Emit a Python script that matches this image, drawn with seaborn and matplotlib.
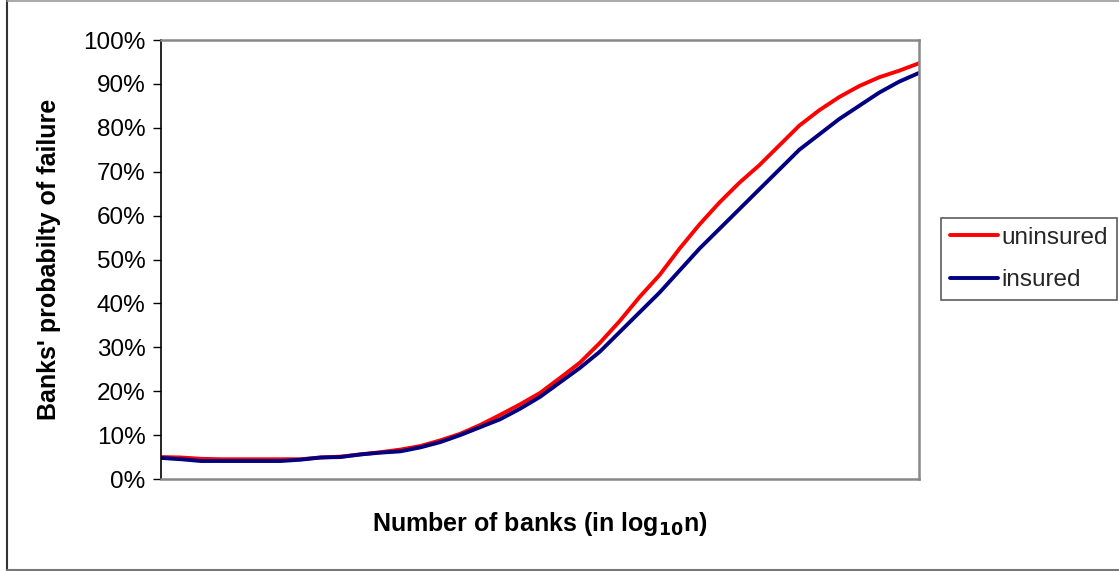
import numpy as np
import pandas as pd
import matplotlib
matplotlib.use("Agg")
import matplotlib.pyplot as plt
import seaborn as sns
from matplotlib.lines import Line2D

# Data (x = position along log10 n axis, no tick labels)
x_index = list(range(39))
uninsured = [5.0, 4.9, 4.6, 4.5, 4.5, 4.5, 4.5, 4.5, 4.9, 5.1, 5.6, 6.1, 6.7, 7.5, 8.8,
             10.3, 12.3, 14.6, 17.0, 19.6, 23.0, 26.5, 31.0, 36.0, 41.5, 46.5, 52.5,
             58.0, 63.0, 67.5, 71.5, 76.0, 80.5, 84.0, 87.0, 89.5, 91.5, 93.0, 94.7]
insured = [4.8, 4.5, 4.1, 4.1, 4.1, 4.1, 4.1, 4.4, 4.9, 5.0, 5.6, 6.0, 6.3, 7.2, 8.4,
           10.0, 11.8, 13.6, 16.0, 18.7, 22.0, 25.3, 29.0, 33.5, 38.0, 42.5, 47.5,
           52.5, 57.0, 61.5, 66.0, 70.5, 75.0, 78.5, 82.0, 85.0, 88.0, 90.5, 92.5]
series_names = ["uninsured", "insured"]
series_colors = ["#FF0000", "#000080"]
y_ticks = list(range(0, 101, 10))

df = pd.DataFrame({
    "x": x_index * 2,
    "value": uninsured + insured,
    "series": [series_names[0]] * len(x_index) + [series_names[1]] * len(x_index),
})

sns.set_style("white")
plt.rcParams["font.family"] = ["Liberation Sans", "DejaVu Sans"]

W, H = 1119, 571
fig = plt.figure(figsize=(W / 100, H / 100), dpi=100)
ax = fig.add_axes([161 / W, 1 - 479 / H, (919 - 161) / W, (479 - 40) / H])

sns.lineplot(data=df, x="x", y="value", hue="series", hue_order=series_names,
             palette=series_colors, linewidth=2.8, ax=ax, legend=False)

ax.set_xlim(0, len(x_index) - 1)
ax.set_ylim(0, 100)
ax.set_yticks(y_ticks)
ax.set_yticklabels([f"{t}%" for t in y_ticks], fontsize=17.5, color="black")
ax.set_xticks([])
ax.tick_params(axis="y", direction="out", length=6, width=1, color="black", pad=5, left=True)

for side in ["top", "right", "bottom"]:
    ax.spines[side].set_color("#888888")
    ax.spines[side].set_linewidth(1.8)
ax.spines["left"].set_color("black")
ax.spines["left"].set_linewidth(1.2)

ax.set_ylabel("Banks' probabilty of failure", fontsize=18, fontweight="bold", labelpad=16,
              color="black")
ax.set_xlabel(r"Number of banks (in log$_{\mathbf{10}}$n)", fontsize=18, fontweight="bold",
              labelpad=22, color="black")

handles = [Line2D([0], [0], color=c, lw=2.8) for c in series_colors]
leg = fig.legend(handles, series_names, loc="upper left",
                 bbox_to_anchor=(941 / W, 1 - 218 / H), frameon=True, fancybox=False,
                 fontsize=17.5, handlelength=2.0, handletextpad=0.15, borderpad=0.35,
                 borderaxespad=0.0, labelspacing=0.85, edgecolor="#333333")
leg.get_frame().set_linewidth(1.2)

# outer chart border
fig.add_artist(Line2D([6.5 / W, 6.5 / W], [0, 1], transform=fig.transFigure, color="#333333", lw=1.5))
fig.add_artist(Line2D([6.5 / W, 1], [1 - 0.5 / H, 1 - 0.5 / H], transform=fig.transFigure, color="#999999", lw=1.2))
fig.add_artist(Line2D([6.5 / W, 1], [1 - 570 / H, 1 - 570 / H], transform=fig.transFigure, color="#777777", lw=1.5))

fig.savefig("out.png", dpi=100)
